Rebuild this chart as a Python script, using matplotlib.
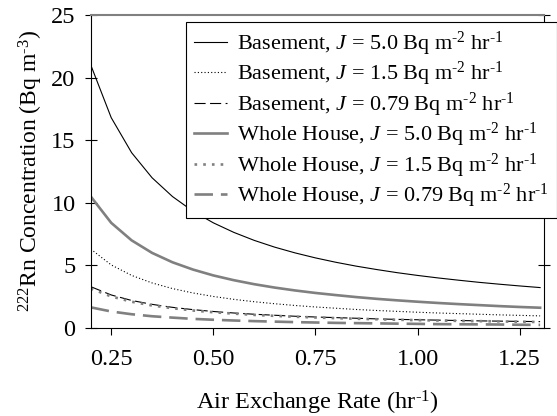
import matplotlib.pyplot as plt

plt.rcParams['font.family'] = ['Liberation Serif', 'DejaVu Serif']
plt.rcParams['mathtext.fontset'] = 'custom'
plt.rcParams['mathtext.rm'] = 'Liberation Serif'
plt.rcParams['mathtext.it'] = 'Liberation Serif:italic'

# air exchange rate (hr^-1)
rate = [0.20, 0.25, 0.30, 0.35, 0.40, 0.45, 0.50, 0.55, 0.60, 0.65, 0.70, 0.75,
        0.80, 0.85, 0.90, 0.95, 1.00, 1.05, 1.10, 1.15, 1.20, 1.25, 1.30]

base_50 = [21.0, 16.8, 14.0, 12.0, 10.5, 9.33, 8.4, 7.64, 7.0, 6.46, 6.0, 5.6,
           5.25, 4.94, 4.67, 4.42, 4.2, 4.0, 3.82, 3.65, 3.5, 3.36, 3.23]
base_15 = [6.3, 5.04, 4.2, 3.6, 3.15, 2.8, 2.52, 2.29, 2.1, 1.94, 1.8, 1.68,
           1.58, 1.48, 1.4, 1.33, 1.26, 1.2, 1.15, 1.1, 1.05, 1.01, 0.97]
base_079 = [3.3, 2.64, 2.2, 1.89, 1.65, 1.47, 1.32, 1.2, 1.1, 1.02, 0.94, 0.88,
            0.83, 0.78, 0.73, 0.69, 0.66, 0.63, 0.6, 0.57, 0.55, 0.53, 0.51]
house_50 = [10.5, 8.4, 7.0, 6.0, 5.25, 4.67, 4.2, 3.82, 3.5, 3.23, 3.0, 2.8,
            2.63, 2.47, 2.33, 2.21, 2.1, 2.0, 1.91, 1.83, 1.75, 1.68, 1.62]
house_15 = [3.15, 2.52, 2.1, 1.8, 1.58, 1.4, 1.26, 1.15, 1.05, 0.97, 0.9, 0.84,
            0.79, 0.74, 0.7, 0.66, 0.63, 0.6, 0.57, 0.55, 0.53, 0.5, 0.48]
house_079 = [1.65, 1.32, 1.1, 0.94, 0.83, 0.73, 0.66, 0.6, 0.55, 0.51, 0.47, 0.44,
             0.41, 0.39, 0.37, 0.35, 0.33, 0.31, 0.3, 0.29, 0.28, 0.26, 0.25]

unit = ' Bq m$^{\u2010\\mathrm{2}}$ hr$^{\u2010\\mathrm{1}}$'
gray = '#808080'

fig = plt.figure(figsize=(5.57, 4.16), dpi=100)
ax = fig.add_axes([0.163, 0.2115, 0.814, 0.7525])

ax.plot(rate, base_50, color='black', lw=0.8, label='Basement, $J$ = 5.0' + unit)
ax.plot(rate, base_15, color='black', lw=0.8, ls=(0, (1, 2)), label='Basement, $J$ = 1.5' + unit)
ax.plot(rate, base_079, color='black', lw=0.8, ls=(0, (10, 4)), label='Basement, $J$ = 0.79' + unit)
ax.plot(rate, house_50, color=gray, lw=1.9, label='Whole House, $J$ = 5.0' + unit)
ax.plot(rate, house_15, color=gray, lw=1.9, ls=(0, (1, 2.3)), label='Whole House, $J$ = 1.5' + unit)
ax.plot(rate, house_079, color=gray, lw=1.9, ls=(0, (7, 3)), label='Whole House, $J$ = 0.79' + unit)

ax.set_xlim(0.2, 1.31)
ax.set_ylim(0, 25)
ax.set_xticks([0.25, 0.50, 0.75, 1.00, 1.25])
ax.set_xticklabels(['0.25', '0.50', '0.75', '1.00', '1.25'])
ax.set_yticks([0, 5, 10, 15, 20, 25])
ax.tick_params(axis='x', labelsize=17.5, direction='out', length=5, pad=10)
ax.tick_params(axis='y', labelsize=17.5, direction='inout', length=8, right=True, pad=7)
ax.spines['top'].set_color(gray)
ax.spines['top'].set_linewidth(1.5)

ax.set_xlabel('Air Exchange Rate (hr$^{\u2010\\mathrm{1}}$)', fontsize=17.5, labelpad=14)
ax.set_ylabel('$^{222}$Rn Concentration (Bq m$^{\u2010\\mathrm{3}}$)', fontsize=17, labelpad=4)

leg = ax.legend(loc='upper right', bbox_to_anchor=(1.0, 1 - 22 / 416),
                bbox_transform=fig.transFigure, fontsize=16, frameon=True,
                fancybox=False, edgecolor='black', framealpha=1,
                handlelength=1.5, handletextpad=0.45, labelspacing=0.1,
                borderpad=0.35, borderaxespad=0)
leg.get_frame().set_linewidth(0.8)

plt.savefig('out.png', dpi=100)
